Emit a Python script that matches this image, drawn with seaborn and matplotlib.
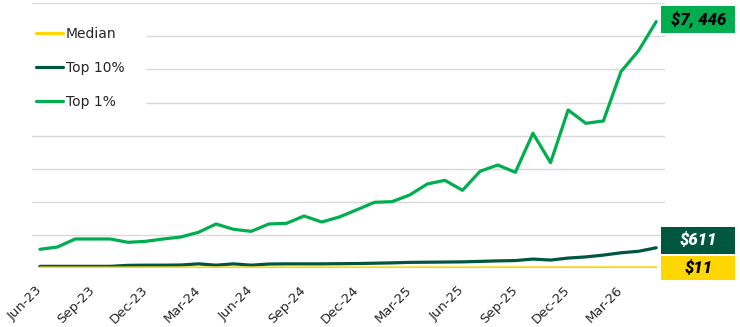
import numpy as np
import pandas as pd
import seaborn as sns
import matplotlib.pyplot as plt
import matplotlib.transforms as mtransforms
from matplotlib.patches import Rectangle

# monthly series, Jun-23 .. May-26
months = pd.date_range("2023-06-01", periods=36, freq="MS").strftime("%b-%y").tolist()

median = [5, 5, 5, 5, 5, 6, 6, 6, 6, 6, 7, 7, 7, 7, 7, 8, 8, 8,
          8, 8, 8, 9, 9, 9, 9, 9, 9, 10, 10, 10, 10, 10, 10, 11, 11, 11]
top10 = [50, 50, 50, 50, 50, 80, 85, 85, 90, 125, 85, 125, 85, 120, 125, 125, 125, 130,
         135, 145, 155, 170, 175, 180, 185, 200, 215, 225, 270, 240, 300, 335, 390, 460, 505, 611]
top1 = [565, 635, 877, 877, 877, 776, 806, 877, 937, 1078, 1330, 1169, 1108, 1330, 1350, 1572, 1390, 1541,
        1760, 1986, 2005, 2207, 2539, 2650, 2348, 2923, 3114, 2892, 4071, 3184, 4776, 4373, 4444, 5935, 6570, 7446]

series = ["Median", "Top 10%", "Top 1%"]
colors = {"Median": "#FFD700", "Top 10%": "#00573F", "Top 1%": "#00AE4F"}
end_labels = ["$11", "$611", "$7, 446"]
end_text_colors = ["black", "white", "black"]

df = pd.DataFrame({"i": np.arange(len(months)), "Median": median, "Top 10%": top10, "Top 1%": top1})
long = df.melt(id_vars="i", value_vars=series, var_name="group", value_name="value")

sns.set_style("white")
plt.rcParams["font.family"] = ["DejaVu Sans"]

fig = plt.figure(figsize=(7.4, 3.27), dpi=100)
ax = fig.add_axes([32 / 740, 1 - 268 / 327, 633 / 740, 264.7 / 327])

sns.lineplot(data=long, x="i", y="value", hue="group", hue_order=series,
             palette=colors, linewidth=2.3, ax=ax)
ax.lines[0].set_linewidth(2.0)
ax.lines[0].set_zorder(3)

ax.set_xlim(-0.45, 35.5)
ax.set_ylim(0, 8000)
ax.set_yticks(range(0, 8001, 1000))
ax.set_yticklabels([])
ax.yaxis.grid(True, color="#d9d9d9", linewidth=1)
ax.xaxis.grid(False)
ax.set_axisbelow(True)
for s in ax.spines.values():
    s.set_visible(False)
ax.set_xlabel("")
ax.set_ylabel("")
ax.set_xticks(range(0, len(months), 3))
ax.set_xticklabels(months[::3], rotation=45, ha="right", va="center",
                   rotation_mode="anchor", fontsize=9.5)
ax.tick_params(axis="x", length=0, pad=14.5)
ax.tick_params(axis="y", length=0)

handles, labels = ax.get_legend_handles_labels()
leg = ax.legend(handles, labels, loc="upper left", bbox_to_anchor=(-0.027, 0.99),
                borderaxespad=0, borderpad=1.5, frameon=True, framealpha=1,
                facecolor="white", edgecolor="white", fontsize=10,
                handlelength=1.95, handletextpad=0.2, labelspacing=1.45)
for h in leg.get_lines():
    h.set_linewidth(2.3)

# value boxes to the right of the last point (pixel offsets from the point)
boxes = [(-12.4, 11.6), (-6.2, 21.1), (-11, 15.7)]
last = len(months) - 1
for name, lab, tc, (b0, b1) in zip(series, end_labels, end_text_colors, boxes):
    val = df[name].iloc[-1]
    tr = fig.dpi_scale_trans + mtransforms.ScaledTranslation(last, val, ax.transData)
    ax.add_patch(Rectangle((5 / 100, b0 / 100), 74 / 100, (b1 - b0) / 100,
                           facecolor=colors[name], edgecolor="none", transform=tr, clip_on=False))
    ax.text(42 / 100, (b0 + b1) / 200, lab, transform=tr, ha="center", va="center",
            fontsize=12, fontweight="black", fontstyle="italic", color=tc, family="Roboto")

fig.savefig("out.png", dpi=100)
